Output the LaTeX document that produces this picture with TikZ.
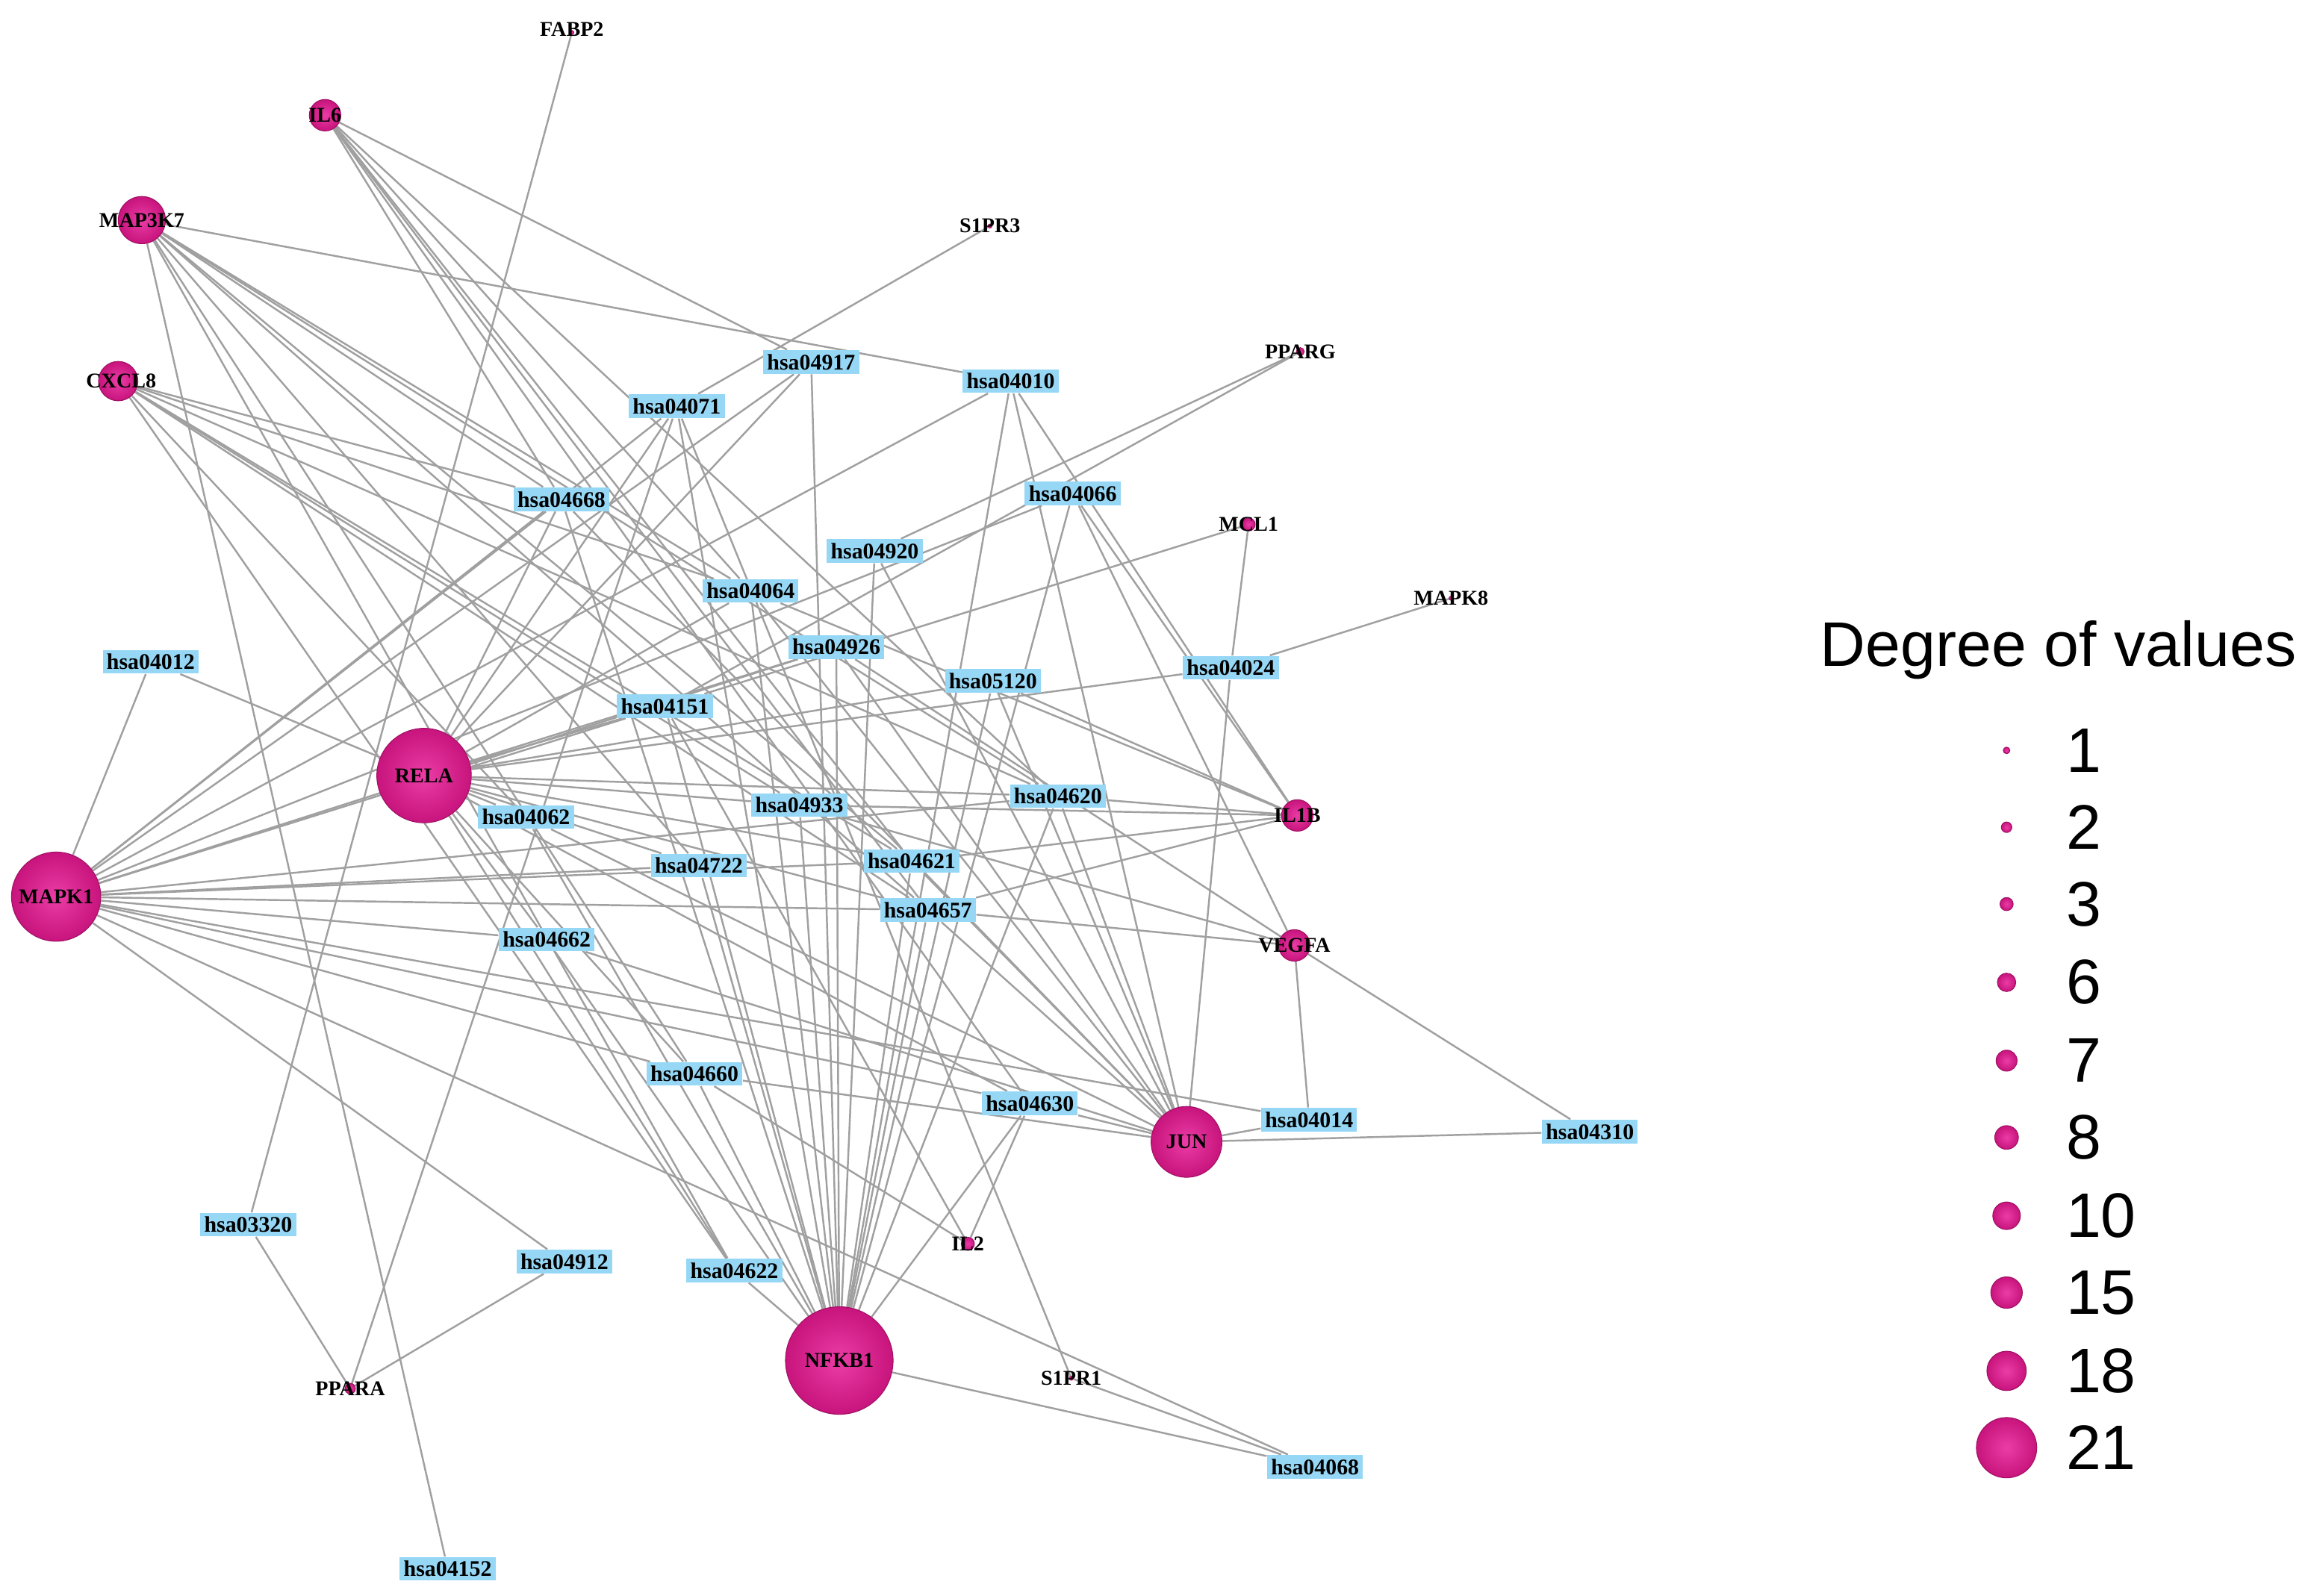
\documentclass[tikz,border=0pt]{standalone}
\usepackage{fontspec}
\setmainfont{Liberation Serif}
\newfontfamily\legfont{Liberation Sans}
\usetikzlibrary{backgrounds}
\definecolor{mag}{RGB}{200,20,125}
\definecolor{magin}{RGB}{235,60,165}
\definecolor{pbox}{RGB}{150,215,245}
\definecolor{edge}{RGB}{160,160,160}
\begin{document}
\begin{tikzpicture}[x=0.01979cm,y=-0.01979cm,
 gene/.style={circle,inner sep=0pt,inner color=magin,outer color=mag,draw=mag!80!black,line width=0.3pt,minimum size=#1},
 glab/.style={font=\fontsize{8}{9}\selectfont\bfseries,text=black},
 pw/.style={fill=pbox,inner sep=1.5pt,font=\fontsize{8.5}{10}\selectfont\bfseries},
 ed/.style={draw=edge,line width=0.7pt},
 leg/.style={font=\legfont\fontsize{24}{28}\selectfont,anchor=west}]
\useasboundingbox (0,0) rectangle (1562,1080);
% genes
\node[gene=1.5pt] (FABP2) at (387,22) {}; \node[glab] at (387,20) {FABP2};
\node[gene=12pt] (IL6) at (220,78) {}; \node[glab] at (220,78) {IL6};
\node[gene=18pt] (MAP3K7) at (96,149) {}; \node[glab] at (96,149) {MAP3K7};
\node[gene=15pt] (CXCL8) at (80,258) {}; \node[glab] at (82,258) {CXCL8};
\node[gene=1.5pt] (S1PR3) at (670,153) {}; \node[glab] at (670,153) {S1PR3};
\node[gene=3pt] (PPARG) at (880,238) {}; \node[glab] at (880,238) {PPARG};
\node[gene=5pt] (MCL1) at (845,355) {}; \node[glab] at (845,355) {MCL1};
\node[gene=1.5pt] (MAPK8) at (982,405) {}; \node[glab] at (982,405) {MAPK8};
\node[gene=12pt] (IL1B) at (878,552) {}; \node[glab] at (878,552) {IL1B};
\node[gene=12pt] (VEGFA) at (876,640) {}; \node[glab] at (876,640) {VEGFA};
\node[gene=27pt] (JUN) at (803,773) {}; \node[glab] at (803,773) {JUN};
\node[gene=41pt] (NFKB1) at (568,921) {}; \node[glab] at (568,921) {NFKB1};
\node[gene=36pt] (RELA) at (287,525) {}; \node[glab] at (287,525) {RELA};
\node[gene=34pt] (MAPK1) at (38,607) {}; \node[glab] at (38,607) {MAPK1};
\node[gene=5pt] (IL2) at (655,842) {}; \node[glab] at (655,842) {IL2};
\node[gene=1.5pt] (S1PR1) at (725,933) {}; \node[glab] at (725,933) {S1PR1};
\node[gene=4pt] (PPARA) at (237,940) {}; \node[glab] at (237,940) {PPARA};
% pathways
\foreach \n/\x/\y in {04917/549/245,04010/684/258,04071/458/275,04668/380/338,04066/726/334,04920/592/373,04064/508/400,04012/102/448,04926/566/438,05120/672/461,04024/833/452,04151/450/478,04620/716/539,04062/356/553,04933/541/545,04722/473/586,04621/617/583,04657/628/616,04662/370/636,04660/470/727,04630/697/747,04014/886/758,04310/1076/766,03320/168/829,04912/382/854,04622/497/860,04068/890/993,04152/303/1062}
 \node[pw] (h\n) at (\x,\y) {hsa\n};
\begin{pgfonlayer}{background}
\foreach \p in {04917,04071,04668,04064,04920,04926,05120,04151,04620,04062,04933,04722,04621,04657,04662,04660,04630,04622,04010,04066,04068}
 \draw[ed] (NFKB1) -- (h\p);
\foreach \p in {04917,04071,04668,04064,04926,05120,04151,04620,04062,04933,04722,04621,04657,04662,04660,04630,04622,04012,04024}
 \draw[ed] (RELA) -- (h\p);
\foreach \p in {04012,04010,04066,04917,04071,04668,04926,04151,04722,04620,04621,04657,04662,04660,04630,04014,04912,04068}
 \draw[ed] (MAPK1) -- (h\p);
\foreach \p in {04010,04668,04064,04920,04926,05120,04024,04620,04062,04621,04657,04662,04660,04630,04014,04310}
 \draw[ed] (JUN) -- (h\p);
\foreach \p in {04010,04668,04064,04620,04621,04657,04622,04660,04722,04152}
 \draw[ed] (MAP3K7) -- (h\p);
\foreach \p in {04668,04064,04620,04621,04657,04062,04933,04622}
 \draw[ed] (CXCL8) -- (h\p);
\foreach \p in {04917,04668,04064,04620,04621,04657,04630}
 \draw[ed] (IL6) -- (h\p);
\foreach \p in {04010,04064,04620,04621,04657,04933,04066,05120}
 \draw[ed] (IL1B) -- (h\p);
\foreach \p in {04066,04933,04014,04310,04657,04926}
 \draw[ed] (VEGFA) -- (h\p);
\draw[ed] (FABP2) -- (h03320);
\draw[ed] (S1PR3) -- (h04071);
\draw[ed] (PPARG) -- (h04920); \draw[ed] (PPARG) -- (h04151);
\draw[ed] (MCL1) -- (h04024); \draw[ed] (MCL1) -- (h04151);
\draw[ed] (MAPK8) -- (h04024);
\draw[ed] (IL2) -- (h04660); \draw[ed] (IL2) -- (h04630); \draw[ed] (IL2) -- (h04151);
\draw[ed] (S1PR1) -- (h04071); \draw[ed] (S1PR1) -- (h04068);
\draw[ed] (PPARA) -- (h03320); \draw[ed] (PPARA) -- (h04912); \draw[ed] (PPARA) -- (h04071);
\end{pgfonlayer}
% legend
\node[font=\legfont\fontsize{24}{28}\selectfont] (lt) at (1393,440) {Degree of values};
\foreach \v/\y/\s in {1/508/2.5,2/560/4,3/612/5,6/665/7,7/718/8,8/770/9,10/823/10.5,15/875/12,18/928/15,21/980/23}{
 \node[gene=\s pt] (l\v) at (1358,\y) {};
 \node[leg] (t\v) at (1392,\y) {\v};}
\end{tikzpicture}
\end{document}
